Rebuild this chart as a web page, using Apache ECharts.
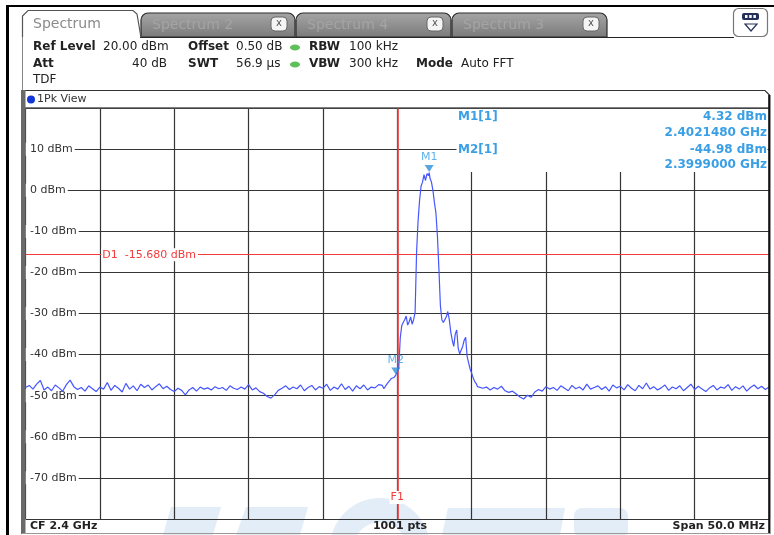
<!DOCTYPE html>
<html><head><meta charset="utf-8">
<script src="https://cdn.jsdelivr.net/npm/echarts@6/dist/echarts.min.js"></script>
<style>html,body{margin:0;padding:0;background:#fff}#c{width:774px;height:535px}</style>
</head><body><div id="c"></div>
<script>
const FONT = '"DejaVu Sans", Verdana, sans-serif';

// axis ticks
const freqMinMHz = 2375, freqMaxMHz = 2425, freqDivMHz = 5;
const levelMin = -80, levelMax = 20, levelDiv = 10;
const yTickValues = [10, 0, -10, -20, -30, -40, -50, -60, -70];
const yTickLabels = ['10 dBm', '0 dBm', '-10 dBm', '-20 dBm', '-30 dBm', '-40 dBm', '-50 dBm', '-60 dBm', '-70 dBm'];

// trace: left noise floor (2375 MHz, 0.25 MHz steps)
const noiseLeftStartMHz = 2375, noiseStepMHz = 0.25;
const noiseLeftDbm = [
 -48.0,-47.5,-48.4,-47.2,-46.3,-48.6,-47.9,-48.8,-47.4,-48.1,
 -48.9,-47.3,-46.2,-47.8,-48.5,-48.0,-48.9,-47.6,-48.3,-49.0,
 -47.9,-48.4,-46.8,-48.7,-47.5,-48.2,-49.1,-47.0,-48.4,-47.6,
 -48.8,-47.2,-48.0,-47.4,-48.6,-47.8,-47.1,-48.3,-47.7,-48.5,
 -49.0,-48.2,-48.7,-49.8,-48.6,-48.0,-48.9,-47.9,-48.4,-48.1,
 -48.6,-47.8,-48.3,-48.0,-48.7,-47.6,-48.2,-48.5,-47.9,-48.4,
 -47.3,-48.6,-48.1,-49.0,-49.4,-50.2,-50.6,-49.8,-48.7,-48.2,
 -47.6,-48.5,-47.9,-48.3,-47.4,-48.8,-48.0,-47.5,-48.6,-47.8,
 -48.2,-47.2,-48.7,-47.9,-48.4,-47.1,-48.5,-47.7,-48.9,-47.6,
 -48.3,-47.4,-48.6,-47.9,-48.1,-47.3
];
// trace: signal region
const signalFreqMHz = [
 2399.0,2399.1,2399.2,2399.3,2399.4,2399.5,2399.6,2399.7,2399.8,2399.9,
 2400.0,2400.1,2400.2,2400.3,2400.4,2400.5,2400.6,2400.7,2400.8,2400.9,
 2401.0,2401.1,2401.2,2401.3,2401.4,2401.5,2401.6,2401.7,2401.8,2401.9,
 2402.0,2402.1,2402.148,2402.2,2402.3,2402.4,2402.5,2402.6,2402.7,2402.8,
 2402.9,2403.0,2403.1,2403.2,2403.3,2403.4,2403.5,2403.6,2403.7,2403.8,
 2403.9,2404.0,2404.1,2404.2,2404.3,2404.4,2404.5,2404.6,2404.7,2404.8,
 2404.9,2405.0,2405.1,2405.2,2405.3,2405.4,2405.5
];
const signalDbm = [
 -47.5,-48.3,-48.5,-47.2,-46.8,-46.3,-45.8,-46.2,-45.5,-44.98,
 -44.5,-43.5,-36.0,-33.0,-32.2,-31.5,-30.6,-32.8,-32.0,-30.8,
 -32.6,-31.5,-29.8,-15.0,-7.5,-2.5,1.0,2.0,3.8,2.4,
 4.1,3.6,4.32,3.0,2.0,0.0,-3.0,-5.5,-11.0,-19.0,
 -28.0,-31.5,-32.2,-32.0,-30.8,-29.5,-31.5,-34.5,-36.5,-38.0,
 -35.0,-34.0,-38.5,-39.8,-40.0,-38.0,-36.5,-35.8,-40.5,-42.0,
 -43.5,-44.5,-45.6,-46.5,-47.0,-47.8,-47.4
];
// trace: right noise floor (2405.75 MHz, 0.25 MHz steps)
const noiseRightStartMHz = 2405.75;
const noiseRightDbm = [
 -48.2,-47.9,-48.6,-48.0,-48.4,-47.7,-48.8,-49.2,-48.9,-49.6,
 -50.3,-50.8,-49.9,-50.4,-49.1,-48.5,-48.9,-47.8,-48.4,-48.0,
 -48.7,-47.6,-48.2,-48.8,-47.5,-48.3,-47.9,-48.6,-47.2,-48.4,
 -48.0,-47.6,-48.5,-47.8,-48.9,-47.4,-48.1,-47.7,-48.6,-47.3,
 -48.2,-48.8,-47.5,-48.3,-46.9,-48.4,-47.8,-48.6,-48.1,-47.4,
 -48.7,-47.9,-48.3,-47.6,-48.8,-48.0,-47.2,-48.5,-47.7,-48.4,
 -49.0,-48.1,-47.5,-48.6,-47.9,-48.2,-47.3,-48.7,-47.8,-48.4,
 -47.6,-48.9,-48.0,-47.4,-48.3,-47.7,-48.5,-47.9
];

// markers and reference lines
const markerNames = ['M1', 'M2'];
const markerFreqMHz = [2402.148, 2399.9];
const markerDbm = [4.32, -44.98];
const displayLineDbm = -15.68;
const displayLineLabel = 'D1  -15.680 dBm';
const displayLineLabelFreq = 2380;
const freqLineMHz = 2400;
const freqLineLabel = 'F1';
const freqLineLabelDbm = -74.8;

const tracePoints = [];
noiseLeftDbm.forEach((v, i) => tracePoints.push([noiseLeftStartMHz + i * noiseStepMHz, v]));
signalFreqMHz.forEach((f, i) => tracePoints.push([f, signalDbm[i]]));
noiseRightDbm.forEach((v, i) => tracePoints.push([noiseRightStartMHz + i * noiseStepMHz, v]));

const RED = '#f23b3b';
const MK = '#3a9fe4';
const WM = 'rgba(150,190,230,0.28)';

function txt(text, x, y, opt) {
  opt = opt || {};
  const st = {
    text: text, x: x, y: y, fill: opt.fill || '#222',
    font: (opt.bold ? 'bold ' : '') + (opt.size || 12) + 'px ' + FONT,
    textAlign: opt.align || 'left', textVerticalAlign: 'middle' };
  if (opt.bg) { st.backgroundColor = opt.bg; st.padding = opt.padding || [1, 2, 1, 2]; }
  return { type: 'text', z: opt.z || 20, silent: true, style: st };
}
function grayTab(x, w, label) {
  return [
    { type: 'rect', z: 10, shape: { x: x, y: 13, width: w, height: 24, r: [7, 7, 0, 0] },
      style: { fill: { type: 'linear', x: 0, y: 0, x2: 0, y2: 1,
        colorStops: [{ offset: 0, color: '#a6a6a6' }, { offset: 1, color: '#7a7a7a' }] },
        stroke: '#2a2a2a', lineWidth: 1.2 } },
    txt(label, x + 11, 25, { size: 14, fill: '#a4a4a4', z: 11 }),
    { type: 'rect', z: 11, shape: { x: x + w - 24, y: 17, width: 16, height: 14, r: 4 },
      style: { fill: '#f4f4f4', stroke: '#666', lineWidth: 1 } },
    txt('x', x + w - 16, 23.5, { size: 10, fill: '#555', align: 'center', z: 12 })
  ];
}

const chart = echarts.init(document.getElementById('c'), null, { renderer: 'canvas' });
chart.setOption({
  animation: false,
  backgroundColor: '#fff',
  grid: { left: 25.5, right: 774 - 769, top: 108.2, bottom: 535 - 518.9, containLabel: false },
  xAxis: { type: 'value', min: freqMinMHz, max: freqMaxMHz, interval: freqDivMHz,
    axisLabel: { show: false }, axisLine: { show: false }, axisTick: { show: false },
    splitLine: { show: true, lineStyle: { color: '#353535', width: 1.2 } } },
  yAxis: { type: 'value', min: levelMin, max: levelMax, interval: levelDiv,
    axisLabel: { show: false }, axisLine: { show: false }, axisTick: { show: false },
    splitLine: { show: true, lineStyle: { color: '#353535', width: 1.2 } } }
});

const px = (f, v) => chart.convertToPixel({ gridIndex: 0 }, [f, v]);

const graphics = [
  // watermark
  { type: 'polygon', z: -1, shape: { points: [[171, 507], [221, 507], [213, 535], [163, 535]] }, style: { fill: WM } },
  { type: 'polygon', z: -1, shape: { points: [[246, 507], [308, 507], [300, 535], [236, 535]] }, style: { fill: WM } },
  { type: 'sector', z: -1, shape: { cx: 380, cy: 548, r0: 26, r: 50, startAngle: Math.PI, endAngle: 2 * Math.PI }, style: { fill: WM } },
  { type: 'polygon', z: -1, shape: { points: [[448, 508], [565, 508], [560, 535], [442, 535]] }, style: { fill: WM } },
  { type: 'rect', z: -1, shape: { x: 574, y: 508, width: 54, height: 30, r: 8 }, style: { fill: WM } },
  // outer black frame
  { type: 'rect', z: 30, shape: { x: 6, y: 5, width: 770, height: 2 }, style: { fill: '#000' } },
  { type: 'rect', z: 30, shape: { x: 6, y: 5, width: 3, height: 532 }, style: { fill: '#000' } },
  // tab baseline and left line
  { type: 'line', z: 9, shape: { x1: 140, y1: 37.5, x2: 734, y2: 37.5 }, style: { stroke: '#222', lineWidth: 1.2 } },
  { type: 'line', z: 9, shape: { x1: 22.5, y1: 16, x2: 22.5, y2: 91 }, style: { stroke: '#888', lineWidth: 1 } },
  // active tab
  { type: 'polyline', z: 12, shape: { points: [[22.5, 37], [22.5, 16], [28, 10.5], [133, 10.5], [137, 14], [141, 37.5]] }, style: { stroke: '#555', lineWidth: 1.2, fill: null } },
  txt('Spectrum', 33, 24, { size: 14, fill: '#8a8a8a' }),
  ...grayTab(141, 154, 'Spectrum 2'),
  ...grayTab(296, 155, 'Spectrum 4'),
  ...grayTab(452, 155, 'Spectrum 3'),
  // icon box
  { type: 'rect', z: 10, shape: { x: 733.5, y: 8.5, width: 34, height: 28, r: 5 }, style: { fill: '#fff', stroke: '#777', lineWidth: 1.2 } },
  { type: 'rect', z: 11, shape: { x: 742, y: 13, width: 17, height: 7, r: 2 }, style: { fill: '#25305a' } },
  { type: 'rect', z: 12, shape: { x: 745, y: 15, width: 2.5, height: 3 }, style: { fill: '#fff' } },
  { type: 'rect', z: 12, shape: { x: 749.2, y: 15, width: 2.5, height: 3 }, style: { fill: '#fff' } },
  { type: 'rect', z: 12, shape: { x: 753.4, y: 15, width: 2.5, height: 3 }, style: { fill: '#fff' } },
  { type: 'polygon', z: 11, shape: { points: [[745, 24], [757, 24], [751, 31]] }, style: { fill: '#fff', stroke: '#25305a', lineWidth: 1.2 } },
  // parameter header
  txt('Ref Level', 33, 47, { bold: true }),
  txt('20.00 dBm', 103, 47),
  txt('Offset', 188, 47, { bold: true }),
  txt('0.50 dB', 236, 47),
  { type: 'ellipse', z: 20, shape: { cx: 295, cy: 47.5, rx: 5, ry: 3 }, style: { fill: '#5fbf5a' } },
  txt('RBW', 309, 47, { bold: true }),
  txt('100 kHz', 349, 47),
  txt('Att', 33, 64, { bold: true }),
  txt('40 dB', 167, 64, { align: 'right' }),
  txt('SWT', 188, 64, { bold: true }),
  txt('56.9 µs', 236, 64),
  { type: 'ellipse', z: 20, shape: { cx: 295, cy: 64.5, rx: 5, ry: 3 }, style: { fill: '#5fbf5a' } },
  txt('VBW', 309, 64, { bold: true }),
  txt('300 kHz', 349, 64),
  txt('Mode', 416, 64, { bold: true }),
  txt('Auto FFT', 461, 64),
  txt('TDF', 33, 80),
  // view panel header
  { type: 'polyline', z: 10, shape: { points: [[22.5, 108], [22.5, 90.5], [765, 90.5], [769.5, 95], [769.5, 108]] }, style: { stroke: '#333', lineWidth: 1.2, fill: null } },
  { type: 'line', z: 10, shape: { x1: 22, y1: 107.8, x2: 770, y2: 107.8 }, style: { stroke: '#555', lineWidth: 1.2 } },
  { type: 'circle', z: 11, shape: { cx: 31, cy: 99.5, r: 4 }, style: { fill: '#1236d8' } },
  txt('1Pk View', 37, 99.5, { size: 11, fill: '#333' }),
  // plot frame
  { type: 'rect', z: 10, shape: { x: 21, y: 90, width: 4.5, height: 444 }, style: { fill: '#6a6a6a' } },
  { type: 'rect', z: 10, shape: { x: 768.2, y: 95, width: 2.2, height: 439 }, style: { fill: '#111' } },
  { type: 'line', z: 10, shape: { x1: 22, y1: 533.5, x2: 770, y2: 533.5 }, style: { stroke: '#999', lineWidth: 1 } },
  // marker readout box (covers grid)
  { type: 'rect', z: 1, shape: { x: 456.5, y: 109, width: 311, height: 63 }, style: { fill: '#fff' } },
  txt('M1[1]', 458, 117, { bold: true, fill: MK }),
  txt('4.32 dBm', 767, 117, { bold: true, fill: MK, align: 'right' }),
  txt('2.4021480 GHz', 767, 133, { bold: true, fill: MK, align: 'right' }),
  txt('M2[1]', 458, 150, { bold: true, fill: MK }),
  txt('-44.98 dBm', 767, 150, { bold: true, fill: MK, align: 'right' }),
  txt('2.3999000 GHz', 767, 165, { bold: true, fill: MK, align: 'right' }),
  // status bar
  txt('CF 2.4 GHz', 30, 526, { bold: true, size: 11 }),
  txt('1001 pts', 400, 526, { bold: true, size: 11, align: 'center' }),
  txt('Span 50.0 MHz', 765, 526, { bold: true, size: 11, align: 'right' })
];

// y tick labels (placed through the axis scale), below the trace
yTickValues.forEach((v, i) => {
  const p = px(freqMinMHz, v);
  graphics.push(txt(yTickLabels[i], p[0], p[1], { size: 11, fill: '#333', z: 2, bg: '#fff', padding: [1, 2, 1, 4.5] }));
});
// reference line labels, above the red lines
{
  const p = px(displayLineLabelFreq, displayLineDbm);
  graphics.push(txt(displayLineLabel, p[0] + 1.5, p[1], { size: 11, fill: RED, z: 7, bg: '#fff', padding: [1, 2, 1, 1] }));
  const q = px(freqLineMHz, freqLineLabelDbm);
  graphics.push(txt(freqLineLabel, q[0], q[1], { size: 11, fill: RED, z: 7, bg: '#fff', padding: [1, 1, 1, 1], align: 'center' }));
}

chart.setOption({
  graphic: graphics,
  series: [
    { name: 'trace', type: 'line', z: 5, silent: true, showSymbol: false, symbol: 'none',
      data: tracePoints, lineStyle: { color: '#4556ff', width: 1.2 },
      markLine: { silent: true, symbol: ['none', 'none'], animation: false, label: { show: false },
        lineStyle: { color: RED, width: 1.1, type: 'solid' },
        data: [{ yAxis: displayLineDbm }, { xAxis: freqLineMHz, lineStyle: { color: RED, width: 1.6 } }] } },
    { name: 'markers', type: 'scatter', z: 8, silent: true, symbol: 'triangle', symbolRotate: 180,
      symbolSize: [9, 7], symbolOffset: [0, -4],
      itemStyle: { color: '#2f8fd8' },
      data: markerFreqMHz.map((f, i) => [f, markerDbm[i]]),
      label: { show: true, position: 'top', distance: 2, formatter: p => markerNames[p.dataIndex],
        color: MK, fontSize: 11, fontFamily: FONT } }
  ]
});
</script></body></html>
